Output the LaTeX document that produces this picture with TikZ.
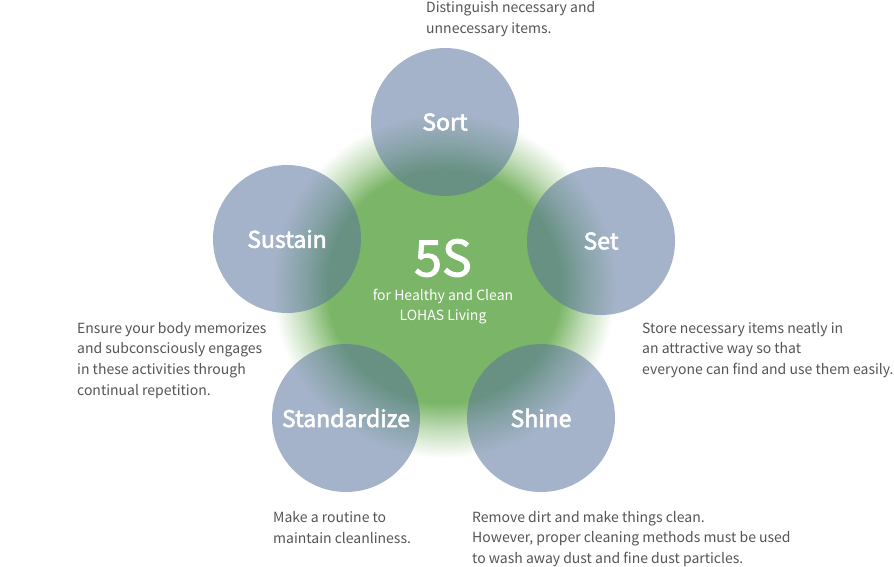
\documentclass[tikz,border=0pt]{standalone}
\usepackage{fontspec}
\setmainfont{Noto Sans CJK JP}
\usetikzlibrary{shadings}
\definecolor{glowgreen}{HTML}{7BB567}
\definecolor{circblue}{HTML}{5A759D}
\definecolor{bodygray}{HTML}{555555}
\pgfdeclareradialshading{glowshade}{\pgfpoint{0bp}{0bp}}{color(0bp)=(glowgreen); color(17bp)=(glowgreen); color(21bp)=(glowgreen!45!white); color(25bp)=(white); color(50bp)=(white)}
\tikzset{
  stepcirc/.style={circle, fill=circblue, fill opacity=0.55, draw=none, minimum size=148pt, inner sep=0pt},
  steptitle/.style={text=white, font=\fontsize{23}{26}\selectfont\addfontfeature{FakeBold=2.5}, inner sep=0pt},
  desc/.style={text=bodygray, font=\fontsize{14}{20.8}\selectfont, align=left, anchor=base west, inner sep=0pt},
}
\begin{document}
\begin{tikzpicture}[x=1pt,y=-1pt]
\useasboundingbox (0,0) rectangle (894,566);
\fill[white] (0,0) rectangle (894,566);
\shade[shading=glowshade] (444,286) circle (172pt);
\node[stepcirc] (sort) at (445,122) {};
\node[stepcirc] (set) at (601,241) {};
\node[stepcirc] (shine) at (541,418) {};
\node[stepcirc] (standardize) at (346,418) {};
\node[stepcirc] (sustain) at (287,239) {};
\node[steptitle] (sortT) at (sort.center) {Sort};
\node[steptitle] (setT) at (set.center) {Set};
\node[steptitle] (shineT) at (shine.center) {Shine};
\node[steptitle] (standardizeT) at (standardize.center) {Standardize};
\node[steptitle] (sustainT) at (sustain.center) {Sustain};
\node[text=white, font=\fontsize{50}{54}\selectfont\addfontfeature{FakeBold=2}, inner sep=0pt] (five) at (443,258) {5S};
\node[text=white, font=\fontsize{14}{20}\selectfont, align=center, inner sep=0pt] (sub) at (443,307) {for Healthy and Clean\\LOHAS Living};
\node[desc] (sortD) at (426,33) {Distinguish necessary and\\unnecessary items.};
\node[desc] (setD) at (642,374.6) {Store necessary items neatly in\\an attractive way so that\\everyone can find and use them easily.};
\node[desc] (shineD) at (472,563.6) {Remove dirt and make things clean.\\However, proper cleaning methods must be used\\to wash away dust and fine dust particles.};
\node[desc] (standardizeD) at (273,543) {Make a routine to\\maintain cleanliness.};
\node[desc] (sustainD) at (77,395.4) {Ensure your body memorizes\\and subconsciously engages\\in these activities through\\continual repetition.};
\end{tikzpicture}
\end{document}
